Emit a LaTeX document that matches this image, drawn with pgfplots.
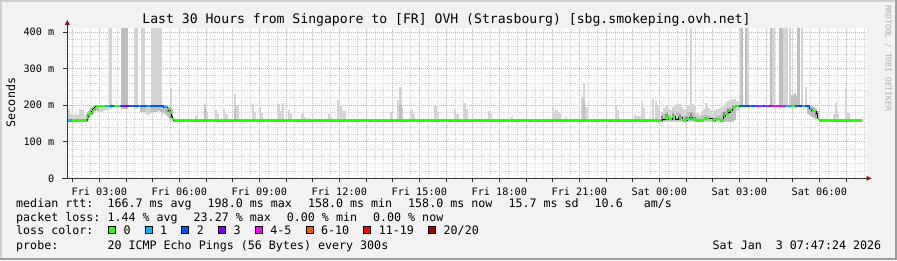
\documentclass[border=0pt]{standalone}
\usepackage{pgfplots}
\usepackage{pgfplotstable}
\pgfplotsset{compat=1.18}
\usepackage{fontspec}
\setmainfont{DejaVu Sans Mono}
\setmonofont{DejaVu Sans Mono}
\setsansfont{DejaVu Sans Mono}
\definecolor{bgc}{HTML}{F2F2F2}
\definecolor{shadeA}{HTML}{CFCFCF}
\definecolor{shadeB}{HTML}{9E9E9E}
\definecolor{gridminor}{HTML}{D2D2D2}
\definecolor{gridmajor}{HTML}{F2A0A0}
\definecolor{lc0}{HTML}{26FF00}
\definecolor{lc1}{HTML}{00B8FF}
\definecolor{lc2}{HTML}{0059FF}
\definecolor{lc3}{HTML}{7E00FF}
\definecolor{lc5}{HTML}{FF00FF}
\definecolor{lc10}{HTML}{FF5500}
\definecolor{lc19}{HTML}{FF0000}
\definecolor{lc20}{HTML}{A00000}
\definecolor{smL}{HTML}{D4D4D4}
\definecolor{smM}{HTML}{BEBEBE}
\definecolor{smD}{HTML}{8A8A8A}
\definecolor{arrowc}{HTML}{7F1414}
\definecolor{axisc}{HTML}{333333}
\definecolor{wm}{HTML}{B0B0B0}
\newcommand\lgf{\fontsize{11.66pt}{14pt}\selectfont}
\newcommand\ttlf{\fontsize{13.12pt}{15pt}\selectfont}
\newcommand\axf{\fontsize{10.2pt}{12pt}\selectfont}
\newcommand\wmf{\fontsize{8pt}{10pt}\selectfont}

% light smoke: t lo hi
\pgfplotstableread{
t lo hi
1.84 155 190
1.93 155 176
2.01 155 173
2.10 155 176
2.18 155 173
2.30 155 190
2.39 155 188
2.47 155 172
2.99 180 198
3.08 180 198
3.16 183 198
3.24 186 198
3.33 188 198
3.39 190 410
3.45 190 410
4.33 190 410
4.39 190 410
4.61 190 410
4.68 190 410
4.98 190 410
5.06 190 410
5.14 190 410
5.22 190 410
5.30 190 410
4.75 176 198
4.83 174 198
4.91 176 198
5.35 170 198
5.69 155 248
6.64 155 169
6.74 155 163
6.96 155 204
7.04 155 181
7.37 155 188
7.44 155 175
7.68 155 190
7.77 155 175
8.10 155 230
8.18 155 199
8.77 155 202
8.85 155 181
9.02 155 194
9.11 155 178
9.72 155 204
9.81 155 183
9.89 155 207
10.12 155 188
10.19 155 175
10.62 155 175
10.69 155 168
10.87 155 166
10.94 155 163
11.62 155 175
11.70 155 168
11.96 155 215
12.04 155 199
12.11 155 190
12.19 155 184
13.96 155 181
14.21 155 213
14.29 155 250
14.36 155 192
14.71 155 186
14.79 155 175
15.61 155 197
15.70 155 181
16.35 155 189
16.43 155 175
16.70 155 207
16.78 155 189
17.62 155 183
17.70 155 175
18.46 155 168
20.01 155 194
20.09 155 181
20.15 155 186
20.21 155 181
20.28 155 175
20.49 155 168
20.57 155 163
21.09 155 222
21.17 155 257
21.27 155 194
22.37 155 200
22.45 155 188
22.54 155 163
22.62 155 163
23.09 155 172
23.18 155 169
23.27 155 169
23.35 155 208
23.43 155 192
23.77 155 216
23.87 155 211
23.95 155 200
24.10 153 180
24.18 153 192
24.27 153 199
24.35 153 190
24.43 153 186
24.52 153 195
24.60 153 199
24.68 153 202
24.77 153 204
24.85 153 195
24.93 153 190
25.02 153 188
25.10 153 199
25.18 153 410
25.27 153 202
25.35 153 198
25.43 153 178
25.52 153 174
25.60 153 184
25.68 153 190
25.77 153 205
25.85 153 192
25.93 153 186
26.02 153 178
26.10 153 187
26.18 153 190
26.27 153 192
26.35 153 195
26.43 153 199
26.52 153 205
26.60 153 210
26.68 153 214
26.77 153 217
26.85 175 217
26.93 185 212
27.02 196 410
27.32 196 410
28.28 196 410
28.65 196 410
28.72 196 410
28.80 196 410
28.91 196 410
29.35 196 410
29.50 196 250
30.55 155 177
30.62 155 207
30.70 155 175
31.01 155 250
31.09 155 179
}\tabL

% medium smoke
\pgfplotstableread{
t lo hi
2.54 158 175
2.58 160 180
2.62 165 185
2.66 168 188
2.71 172 192
2.75 176 196
2.79 180 199
2.83 183 200
2.87 186 201
2.91 188 200
2.95 185 199
3.85 190 410
3.93 190 410
4.02 190 410
4.58 180 198
4.66 182 198
5.00 182 198
5.08 180 198
5.16 182 198
5.25 185 198
5.33 182 198
5.42 178 200
5.50 172 200
5.58 168 198
5.66 163 195
5.72 160 190
6.96 155 190
8.10 155 190
14.29 155 200
21.17 155 215
24.10 156 174
24.18 156 177
24.27 156 180
24.35 156 174
24.43 156 170
24.52 156 180
24.60 156 177
24.68 156 182
24.77 156 178
24.85 156 172
24.93 156 170
25.02 156 172
25.10 156 180
25.18 156 182
25.27 156 180
25.35 156 174
25.43 156 167
25.52 156 165
25.60 156 170
25.68 156 172
25.77 156 174
25.85 156 170
25.93 156 167
26.02 156 166
26.10 156 168
26.18 156 170
26.27 156 174
26.35 156 180
26.43 156 184
26.52 156 188
26.60 156 192
26.68 156 196
26.77 156 199
26.85 160 200
27.10 196 410
27.24 196 410
28.20 196 410
28.53 196 410
28.61 196 410
29.00 196 228
29.08 196 232
29.16 196 225
29.22 196 410
29.57 175 200
29.64 172 200
29.72 168 198
29.80 165 196
29.88 162 192
29.95 158 185
}\tabM

% dark smoke core
\pgfplotstableread{
t lo hi
2.58 165 175
2.71 176 186
2.83 186 195
5.60 180 192
5.70 165 180
24.10 158 170
24.27 160 175
24.52 162 176
24.77 160 172
25.02 158 168
25.18 160 178
25.35 157 168
25.77 158 168
26.10 158 166
26.43 165 180
26.60 178 190
26.77 188 198
29.72 180 192
29.88 170 185
}\tabD

% median (black line), step starts
\pgfplotstableread{
t v
1.81 158
2.54 165
2.58 172
2.62 176
2.66 179
2.71 183
2.75 187
2.79 190
2.83 193
2.87 196
2.91 198
5.41 195
5.54 190
5.60 186
5.66 180
5.70 168
5.74 162
5.79 158
24.10 161
24.225 166
24.35 161
24.475 168
24.60 161
24.725 165
24.85 159
24.91 158
25.04 161
25.14 165
25.225 161
25.35 158
25.66 161
25.85 163
25.975 158
26.10 161
26.29 158
26.41 168
26.475 175
26.60 181
26.66 186
26.725 192
26.79 195
26.85 198
29.64 190
29.72 186
29.80 184
29.88 178
29.93 161
30.00 158
31.61 158
}\med

% loss-coloured runs: a b v
\pgfplotstableread{
a b v
1.976 2.54 158
2.54 2.58 165
2.58 2.62 172
2.62 2.66 176
2.66 2.71 179
2.71 2.75 183
2.75 2.79 187
2.79 2.83 190
2.83 2.87 193
2.87 2.91 196
2.91 3.225 198
3.536 3.7875 198
5.54 5.60 190
5.60 5.66 186
5.66 5.70 180
5.74 5.79 162
5.79 24.10 158
24.225 24.35 166
24.35 24.475 161
24.475 24.60 168
24.725 24.85 165
24.85 24.91 159
24.91 25.04 158
25.04 25.14 161
25.225 25.35 161
25.35 25.66 158
25.66 25.85 161
25.975 26.10 158
26.10 26.29 161
26.29 26.41 158
26.41 26.475 168
26.475 26.60 175
26.66 26.725 186
26.725 26.79 192
26.79 26.85 195
26.85 26.98 198
28.98 29.10 198
29.72 29.80 186
29.80 29.88 184
29.93 30.00 161
30.00 31.61 158
}\runA
\pgfplotstableread{
a b v
1.81 1.976 158
3.225 3.4125 198
4.474 4.5375 198
4.789 4.9125 198
5.411 5.54 195
25.14 25.225 165
27.40 27.45 198
28.75 28.98 198
29.35 29.48 198
29.64 29.72 190
}\runB
\pgfplotstableread{
a b v
3.4125 3.536 198
3.7875 3.851 198
4.099 4.474 198
4.5375 4.789 198
4.9125 5.411 198
26.98 27.30 198
27.45 27.70 198
27.85 27.98 198
28.10 28.22 198
29.10 29.22 198
29.48 29.64 198
}\runC
\pgfplotstableread{
a b v
3.851 4.099 198
27.30 27.40 198
29.22 29.35 198
}\runD
\pgfplotstableread{
a b v
27.70 27.85 198
27.98 28.10 198
28.22 28.75 198
}\runE

\pgfplotsset{
  smoke/.style={only marks, mark=*, mark size=0pt, mark options={draw=none,fill=none},
    error bars/.cd, y dir=plus, y explicit, error mark=none,
    error bar style={line width=2.3pt, #1}},
  run/.style={only marks, mark=*, mark size=0pt, mark options={draw=none,fill=none},
    error bars/.cd, x dir=both, x explicit, error mark=none,
    error bar style={line width=2.2pt, #1}},
}

\begin{document}
\begin{tikzpicture}[x=1pt,y=1pt]
\useasboundingbox (0,0) rectangle (897,260);
\fill[bgc] (0,0) rectangle (897,260);
\fill[shadeA] (0,0) rectangle (2,260);
\fill[shadeA] (0,258) rectangle (897,260);
\fill[shadeB] (0,0) rectangle (897,2);
\fill[shadeB] (895,0) rectangle (897,260);

\begin{axis}[
  at={(67.3pt,81.7pt)}, anchor=south west, scale only axis,
  width=800pt, height=150pt,
  xmin=1.8, xmax=31.8, ymin=0, ymax=410,
  axis x line=bottom, axis y line=left,
  axis line style={draw=none},
  axis background/.style={fill=white},
  xtick={2,3,...,31},
  xticklabels={,Fri 03:00,,,Fri 06:00,,,Fri 09:00,,,Fri 12:00,,,Fri 15:00,,,Fri 18:00,,,Fri 21:00,,,Sat 00:00,,,Sat 03:00,,,Sat 06:00,},
  minor xtick={2.3333,2.6667,...,31.8},
  ytick={0,100,200,300,400},
  yticklabels={0,100 m,200 m,300 m,400 m},
  minor ytick={20,40,...,400},
  grid=both,
  major grid style={gridmajor, dash pattern=on 1pt off 1pt, line width=0.8pt},
  minor grid style={gridminor, dash pattern=on 1pt off 1pt, line width=0.8pt},
  tick align=outside,
  major tick length=4pt, minor tick length=0pt,
  tick style={axisc, line width=0.8pt},
  tick label style={font=\axf, text=black},
  xticklabel style={anchor=base, inner sep=0pt, yshift=-12.7pt},
  yticklabel style={anchor=east, inner sep=0pt, xshift=-8.8pt},
]
\addplot[smoke=smL] table[x=t, y=lo, y error plus expr=\thisrow{hi}-\thisrow{lo}] {\tabL};
\addplot[smoke=smM] table[x=t, y=lo, y error plus expr=\thisrow{hi}-\thisrow{lo}] {\tabM};
\addplot[smoke=smD] table[x=t, y=lo, y error plus expr=\thisrow{hi}-\thisrow{lo}] {\tabD};
\addplot[const plot, black, line width=0.9pt, mark=none] table[x=t, y=v] {\med};
\addplot[run=lc0] table[x expr=(\thisrow{a}+\thisrow{b})/2, y=v, x error expr=(\thisrow{b}-\thisrow{a})/2] {\runA};
\addplot[run=lc1] table[x expr=(\thisrow{a}+\thisrow{b})/2, y=v, x error expr=(\thisrow{b}-\thisrow{a})/2] {\runB};
\addplot[run=lc2] table[x expr=(\thisrow{a}+\thisrow{b})/2, y=v, x error expr=(\thisrow{b}-\thisrow{a})/2] {\runC};
\addplot[run=lc3] table[x expr=(\thisrow{a}+\thisrow{b})/2, y=v, x error expr=(\thisrow{b}-\thisrow{a})/2] {\runD};
\addplot[run=lc5] table[x expr=(\thisrow{a}+\thisrow{b})/2, y=v, x error expr=(\thisrow{b}-\thisrow{a})/2] {\runE};
\end{axis}

% axis lines and arrows
\draw[axisc, line width=1pt] (62,81.7) -- (867,81.7);
\fill[arrowc] (871.5,81.7) -- (866.5,84.2) -- (866.5,79.2) -- cycle;
\draw[axisc, line width=1pt] (67.3,81.7) -- (67.3,235.5);
\fill[arrowc] (67.3,240) -- (64.8,235) -- (69.8,235) -- cycle;

% title, labels
\node[anchor=base, inner sep=0pt, font=\ttlf] at (446.5,236) {Last 30 Hours from Singapore to [FR] OVH (Strasbourg) [sbg.smokeping.ovh.net]};
\node[rotate=90, anchor=base, inner sep=0pt, font=\lgf] at (15,157.5) {Seconds};
\node[rotate=-90, anchor=base, inner sep=0pt, font=\wmf, text=wm] at (885.5,202) {RRDTOOL / TOBI OETIKER};

% legend rows
\begin{scope}[every node/.style={anchor=base west, inner sep=0pt, font=\lgf}]
\node at (16,52.3) {median rtt:};
\node at (107.3,52.3) {166.7 ms avg};
\node at (207.5,52.3) {198.0 ms max};
\node at (307.8,52.3) {158.0 ms min};
\node at (408,52.3) {158.0 ms now};
\node at (508.3,52.3) {15.7 ms sd};
\node at (594.5,52.3) {10.6\ \ \ am/s};
\node at (16,38.3) {packet loss:};
\node at (107.3,38.3) {1.44 \% avg};
\node at (193.5,38.3) {23.27 \% max};
\node at (286.7,38.3) {0.00 \% min};
\node at (372.9,38.3) {0.00 \% now};
\node at (16,25.7) {loss color:};
\node at (123.3,25.7) {0};
\node at (160,25.7) {1};
\node at (196.7,25.7) {2};
\node at (233.4,25.7) {3};
\node at (270.1,25.7) {4-5};
\node at (320.9,25.7) {6-10};
\node at (378.7,25.7) {11-19};
\node at (443.5,25.7) {20/20};
\node at (16,10.7) {probe:};
\node at (107.3,10.7) {20 ICMP Echo Pings (56 Bytes) every 300s};
\node at (712.5,10.7) {Sat Jan\ \ 3 07:47:24 2026};
\end{scope}
\foreach \bx/\bc in {108.3/lc0,145/lc1,181.7/lc2,218.4/lc3,255.1/lc5,305.9/lc10,363.7/lc19,428.5/lc20}{
  \filldraw[fill=\bc, draw=black, line width=0.8pt] (\bx,26.6) rectangle ++(7,7);
}
\end{tikzpicture}
\end{document}
